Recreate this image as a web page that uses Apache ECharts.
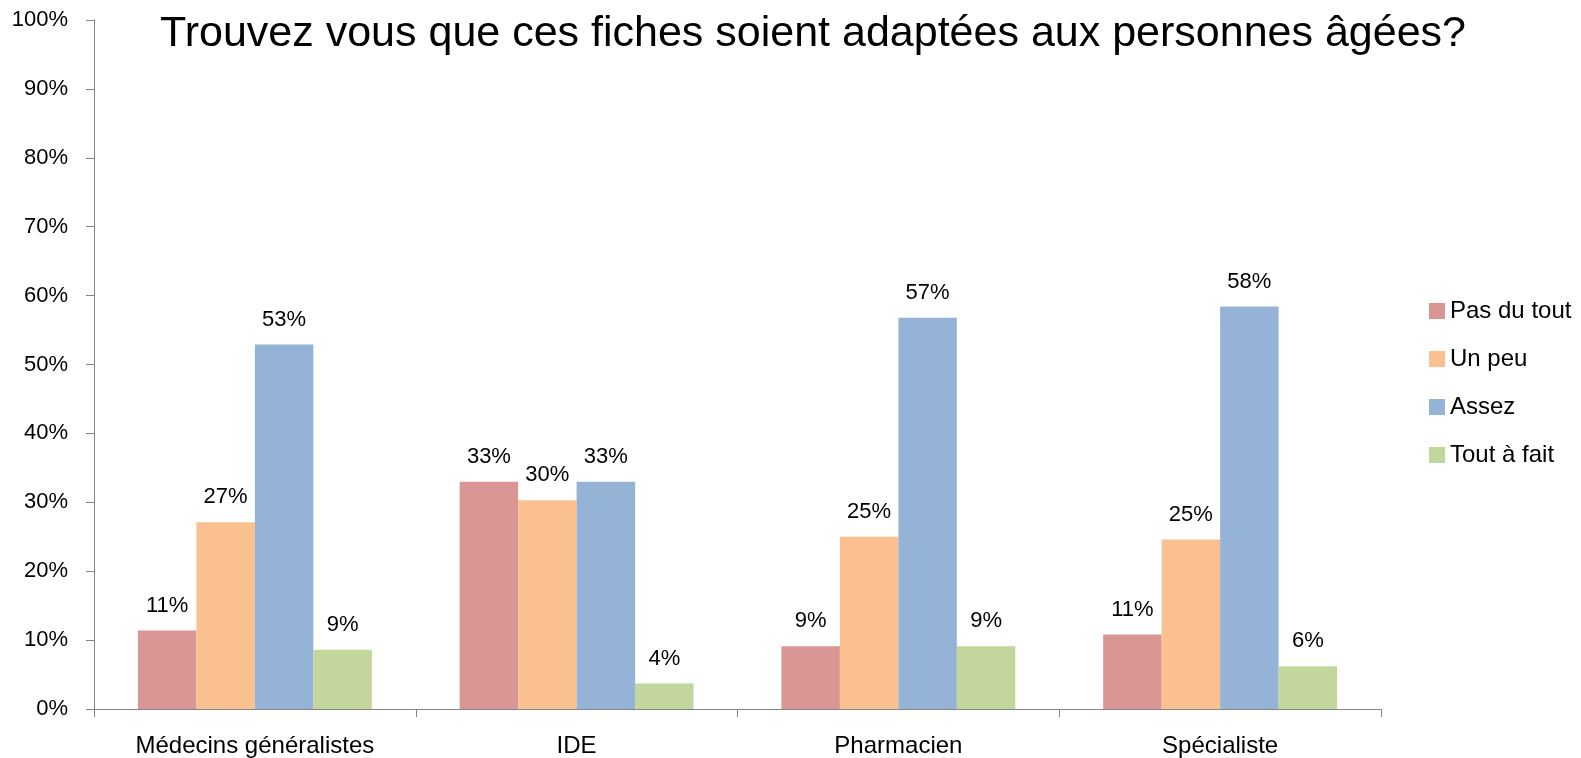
<!DOCTYPE html>
<html>
<head>
<meta charset="utf-8">
<script src="https://cdn.jsdelivr.net/npm/echarts@6/dist/echarts.min.js"></script>
<style>
html,body{margin:0;padding:0;background:#fff;}
#chart{width:1581px;height:758px;}
</style>
</head>
<body>
<div id="chart"></div>
<script>
const titleText = "Trouvez vous que ces fiches soient adaptées aux personnes âgées?";
const categories = ["Médecins généralistes", "IDE", "Pharmacien", "Spécialiste"];
const seriesNames = ["Pas du tout", "Un peu", "Assez", "Tout à fait"];
const pasDuTout = [11.4, 33.0, 9.1, 10.8];
const unPeu = [27.1, 30.3, 25.0, 24.6];
const assez = [52.9, 33.0, 56.8, 58.4];
const toutAFait = [8.6, 3.7, 9.1, 6.2];
const yTicks = [0, 10, 20, 30, 40, 50, 60, 70, 80, 90, 100];
const colors = ["#D99694", "#FAC090", "#95B3D7", "#C3D69B"];

const font = "'Liberation Sans', Arial, sans-serif";
const seriesData = [pasDuTout, unPeu, assez, toutAFait];

const chart = echarts.init(document.getElementById('chart'), null, {renderer: 'canvas'});
chart.setOption({
  animation: false,
  backgroundColor: '#fff',
  title: {
    text: titleText,
    left: 808, top: 8, textAlign: 'center',
    textStyle: {fontFamily: font, fontSize: 43, fontWeight: 'normal', color: '#000'}
  },
  legend: {
    orient: 'vertical',
    left: 1424, top: 294,
    itemWidth: 16, itemHeight: 16, itemGap: 24,
    icon: 'rect',
    data: seriesNames,
    textStyle: {fontFamily: font, fontSize: 24, color: '#000', lineHeight: 24}
  },
  grid: {left: 94, right: 200, top: 20, bottom: 48.5, containLabel: false},
  xAxis: {
    type: 'category',
    data: categories,
    axisLine: {lineStyle: {color: '#868686', width: 1}},
    axisTick: {show: true, length: 8, lineStyle: {color: '#868686'}},
    axisLabel: {fontFamily: font, fontSize: 24, color: '#000', margin: 25}
  },
  yAxis: {
    type: 'value',
    min: 0, max: 100, interval: 10,
    splitLine: {show: false},
    axisLine: {show: true, lineStyle: {color: '#868686', width: 1}},
    axisTick: {show: true, length: 8, lineStyle: {color: '#868686'}},
    axisLabel: {
      fontFamily: font, fontSize: 22, color: '#000', margin: 26,
      customValues: yTicks,
      formatter: v => v + '%'
    }
  },
  series: seriesNames.map((name, i) => ({
    name: name,
    type: 'bar',
    data: seriesData[i],
    barGap: '0%',
    barCategoryGap: '27.3%',
    itemStyle: {color: colors[i]},
    label: {
      show: true, position: 'top', distance: 14,
      fontFamily: font, fontSize: 22, color: '#000',
      formatter: p => Math.round(p.value) + '%'
    }
  }))
});
</script>
</body>
</html>
